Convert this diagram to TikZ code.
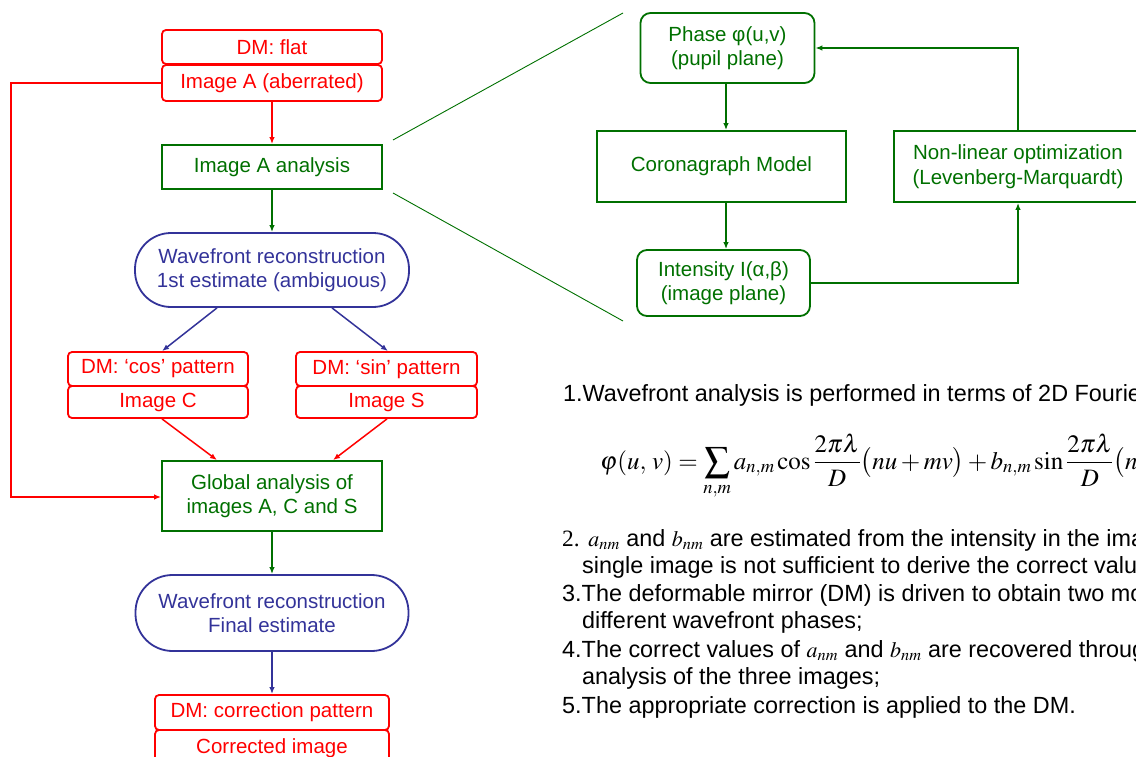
\documentclass[tikz,border=0pt]{standalone}
\usepackage{mathptmx}
\usepackage[no-math]{fontspec}
\setmainfont{Liberation Sans}
\newfontfamily\tms{Liberation Serif}
\usetikzlibrary{arrows.meta,calc}
\definecolor{pgreen}{RGB}{0,112,0}
\definecolor{pblue}{RGB}{51,51,153}
\definecolor{pred}{RGB}{255,0,0}
\newcommand{\coef}[1]{{\fontsize{22}{27}\selectfont$#1_{nm}$}}
\begin{document}
\begin{tikzpicture}[x=1pt,y=-1pt,
  boxfont/.style={font=\fontsize{20.5}{24.5}\selectfont},
  basebox/.style={boxfont,line width=1.8pt,inner sep=0pt,align=center},
  redbox/.style={basebox,draw=pred,text=pred,rounded corners=4pt},
  greenbox/.style={basebox,draw=pgreen,text=pgreen},
  greenround/.style={basebox,draw=pgreen,text=pgreen,rounded corners=10pt},
  bluepill/.style={basebox,draw=pblue,text=pblue,rounded corners=36pt},
  conn/.style={line width=1.5pt,-{Latex[length=7pt,width=5.5pt]}},
  redconn/.style={conn,draw=pred},
  greenconn/.style={conn,draw=pgreen},
  blueconn/.style={conn,draw=pblue},
  zoomline/.style={draw=pgreen,line width=0.9pt},
  bodytext/.style={font=\fontsize{23.4}{27.8}\selectfont,anchor=base west,inner sep=0pt,text=black},
  eqstyle/.style={font=\fontsize{25}{30}\selectfont,anchor=base west,inner sep=0pt,text=black}
]
\useasboundingbox (0,0) rectangle (1136,757);
\clip (0,0) rectangle (1136,757);

% ---------- left flow chart ----------
\node[redbox,minimum width=220pt,minimum height=34pt] (dmflat) at (272,47) {DM: flat};
\node[redbox,minimum width=220pt,minimum height=36pt] (imgA) at (272,83) {Image A (aberrated)};
\node[greenbox,minimum width=220pt,minimum height=44pt] (anA) at (272,167) {Image A analysis};
\node[bluepill,minimum width=274pt,minimum height=74pt] (wf1) at (272,270) {Wavefront reconstruction\\1st estimate (ambiguous)};
\node[redbox,minimum width=180pt,minimum height=34pt] (dmcos) at (158,369) {DM: `cos' pattern};
\node[redbox,minimum width=180pt,minimum height=32pt] (imgC) at (158,402) {Image C};
\node[redbox,minimum width=181pt,minimum height=34pt] (dmsin) at (386.5,369) {DM: `sin' pattern};
\node[redbox,minimum width=181pt,minimum height=32pt] (imgS) at (386.5,402) {Image S};
\node[greenbox,minimum width=220pt,minimum height=70pt] (glob) at (272,496) {Global analysis of\\images A, C and S};
\node[bluepill,minimum width=273pt,minimum height=76pt,rounded corners=37pt] (wf2) at (272,613) {Wavefront reconstruction\\Final estimate};
\node[redbox,minimum width=234pt,minimum height=35pt] (dmcorr) at (272,712.5) {DM: correction pattern};
\node[redbox,minimum width=234pt,minimum height=36pt] (corr) at (272,748) {Corrected image};

\coordinate (lc1) at (11,83);
\coordinate (lc2) at (11,497);
\draw[redconn] (imgA.west) -- (lc1) -- (lc2) -- (glob.west |- lc2);
\draw[redconn] (imgA.south) -- (anA.north);
\draw[greenconn] (anA.south) -- (wf1.north);
\draw[blueconn] ([xshift=-55pt]wf1.south) -- ([xshift=4pt]dmcos.north);
\draw[blueconn] ([xshift=60pt]wf1.south) -- ([xshift=1.5pt]dmsin.north);
\draw[redconn] ([xshift=4pt]imgC.south) -- ([xshift=-55pt]glob.north);
\draw[redconn] ([xshift=0.5pt]imgS.south) -- ([xshift=61pt]glob.north);
\draw[greenconn] (glob.south) -- (wf2.north);
\draw[blueconn] (wf2.south) -- (dmcorr.north);

% ---------- right diagram ----------
\node[greenround,minimum width=174pt,minimum height=70pt] (phase) at (727.5,48) {Phase φ(u,v)\\(pupil plane)};
\node[greenbox,minimum width=249pt,minimum height=71pt] (coro) at (721.5,166.5) {Coronagraph Model};
\node[greenround,minimum width=173pt,minimum height=66pt] (inten) at (723.5,283) {Intensity I(α,β)\\(image plane)};
\node[greenbox,minimum width=248pt,minimum height=71pt] (nonlin) at (1018,166.5) {Non-linear optimization\\(Levenberg-Marquardt)};

\coordinate (colx) at (726,0);
\draw[greenconn] (colx |- phase.south) -- (colx |- coro.north);
\draw[greenconn] (colx |- coro.south) -- (colx |- inten.north);
\draw[greenconn] (inten.east) -| (nonlin.south);
\draw[greenconn] (nonlin.north) |- (phase.east);

\coordinate (z1a) at (393,140);
\coordinate (z1b) at (623,13);
\coordinate (z2a) at (393,193);
\coordinate (z2b) at (623,321);
\draw[zoomline] (z1a) -- (z1b);
\draw[zoomline] (z2a) -- (z2b);

% ---------- text ----------
\node[bodytext] (t1) at (563,401) {1.Wavefront analysis is performed in terms of 2D Fourier};

\node[eqstyle] (eq) at (600,469) {$\displaystyle \varphi(u,\,v)=\sum_{n,m} a_{n,m}\,\mathrm{cos}\,{\frac{2\pi\lambda}{D}}{\bigl(nu+mv\bigr)}+b_{n,m}\,\mathrm{sin}\,{\frac{2\pi\lambda}{D}}{\bigl(nu+mv\bigr)}$};

\node[bodytext] (t2) at (562,546) {{\tms 2.} \coef{a} and \coef{b} are estimated from the intensity in the image};
\node[bodytext] (t3) at (582,573) {single image is not sufficient to derive the correct values};
\node[bodytext] (t4) at (562,601) {3.The deformable mirror (DM) is driven to obtain two more};
\node[bodytext] (t5) at (582,628) {different wavefront phases;};
\node[bodytext] (t6) at (562,657) {4.The correct values of \coef{a} and \coef{b} are recovered through};
\node[bodytext] (t7) at (582,684) {analysis of the three images;};
\node[bodytext] (t8) at (562,713) {5.The appropriate correction is applied to the DM.};
\end{tikzpicture}
\end{document}
